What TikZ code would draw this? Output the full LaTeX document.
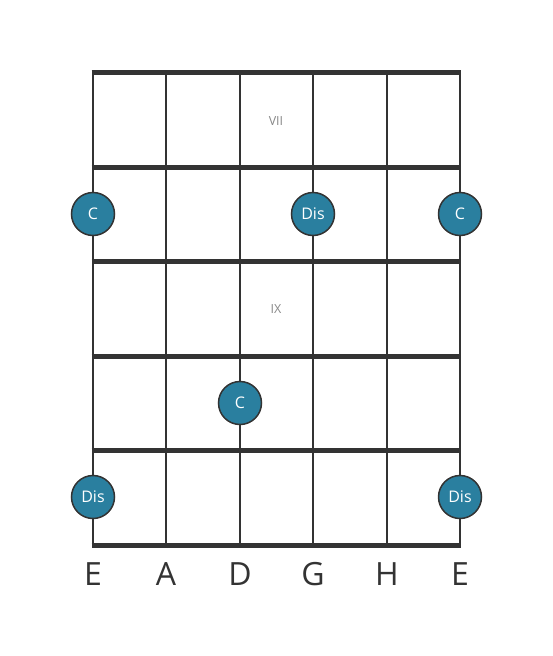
\documentclass[tikz,border=0pt]{standalone}
\usepackage{fontspec}
\setmainfont{Open Sans}
\definecolor{dotblue}{HTML}{2A7F9F}
\definecolor{fretgray}{HTML}{333333}
\definecolor{labelgray}{HTML}{888888}

\begin{document}
\begin{tikzpicture}[x=1pt,y=-1pt,
		dot/.style={circle,draw=fretgray,line width=1.5pt,fill=dotblue,minimum size=43pt,inner sep=0pt,text=white,font=\fontsize{16}{16}\selectfont},
		string/.style={fretgray,line width=2.6pt},
		fret/.style={fretgray,line width=5pt},
		tuning/.style={fretgray,font=\fontsize{32}{32}\selectfont},
		position/.style={labelgray,font=\fontsize{12.5}{12.5}\selectfont}]
			\useasboundingbox (0,0) rectangle (553,656);
			
			\draw[string] (93,72) -- (93,545);
			\draw[string] (166,72) -- (166,545);
			\draw[string] (240,72) -- (240,545);
			\draw[string] (313,72) -- (313,545);
			\draw[string] (387,72) -- (387,545);
			\draw[string] (460,72) -- (460,545);
			
			\draw[fret] (91.7,72) -- (461.3,72);
			\draw[fret] (91.7,167) -- (461.3,167);
			\draw[fret] (91.7,261) -- (461.3,261);
			\draw[fret] (91.7,356) -- (461.3,356);
			\draw[fret] (91.7,450) -- (461.3,450);
			\draw[fret] (91.7,545) -- (461.3,545);
			
			\node[position] (vii) at (276,121) {VII};
			\node[position] (ix) at (276,309) {IX};
			
			\node[dot] (c1) at (93,214) {C};
			\node[dot] (dis1) at (313,214) {Dis};
			\node[dot] (c2) at (460,214) {C};
			\node[dot] (c3) at (240,403) {C};
			\node[dot] (dis2) at (93,497) {Dis};
			\node[dot] (dis3) at (460,497) {Dis};
			
			\node[tuning] (s1) at (93,574) {E};
			\node[tuning] (s2) at (166,574) {A};
			\node[tuning] (s3) at (240,574) {D};
			\node[tuning] (s4) at (313,574) {G};
			\node[tuning] (s5) at (387,574) {H};
			\node[tuning] (s6) at (460,574) {E};
		  \end{tikzpicture}
\end{document}
